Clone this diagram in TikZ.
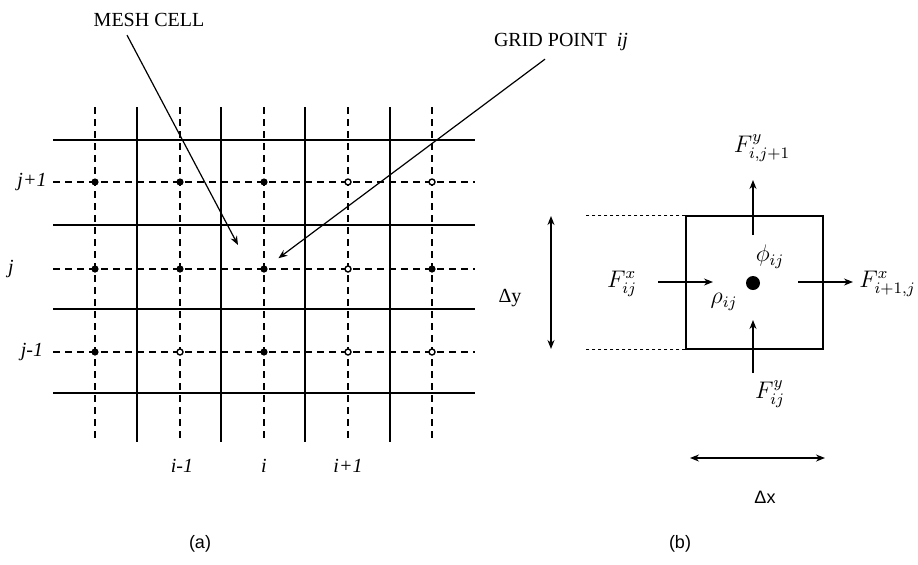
\documentclass[tikz,border=0pt]{standalone}
\usepackage{fontspec}
\setmainfont{Liberation Serif}
\setsansfont{Liberation Sans}
\usepackage{tikz}
\usetikzlibrary{arrows.meta,positioning}
\tikzset{
  cellline/.style={line width=0.9pt, draw=black},
  halfline/.style={line width=0.6pt, dashed, dash pattern=on 3.5pt off 2.5pt},
  dotline/.style={line width=0.6pt, dash pattern=on 1.5pt off 1.5pt},
  fullpt/.style={circle, fill=black, inner sep=0pt, minimum size=3.6pt},
  openpt/.style={circle, draw=black, fill=white, line width=0.7pt, inner sep=0pt, minimum size=3pt},
  idx/.style={font=\fontsize{10}{12}\selectfont\itshape, inner sep=1pt},
  caption/.style={font=\fontsize{10}{12}\selectfont, inner sep=1pt},
  flux/.style={font=\fontsize{11.5}{14}\selectfont, inner sep=0.5pt},
  arrow/.style={-{Stealth[length=4.5pt,width=3.5pt]}, line width=0.6pt},
  twoway/.style={{Stealth[length=4.5pt,width=3.5pt]}-{Stealth[length=4.5pt,width=3.5pt]}, line width=0.7pt}
}
\begin{document}
\begin{tikzpicture}[x=0.5pt, y=-0.5pt]
  \useasboundingbox (0,0) rectangle (918,564);

  % (a) the mesh
  \foreach \x in {95,180,264,348,432}
    \draw[halfline] (\x,107) -- (\x,442);
  \foreach \y in {182,269,352}
    \draw[halfline] (53,\y) -- (475,\y);
  \foreach \x in {137,221,305,390}
    \draw[cellline] (\x,107) -- (\x,442);
  \foreach \y in {140,225,309,393}
    \draw[cellline] (53,\y) -- (475,\y);

  \foreach \x/\y/\s/\n in {95/182/fullpt/p11, 180/182/fullpt/p21, 264/182/fullpt/p31,
      348/182/openpt/p41, 432/182/openpt/p51,
      95/269/fullpt/p12, 180/269/fullpt/p22, 264/269/fullpt/p32,
      348/269/openpt/p42, 432/269/fullpt/p52,
      95/352/fullpt/p13, 180/352/openpt/p23, 264/352/fullpt/p33,
      348/352/openpt/p43, 432/352/openpt/p53}
    \node[\s] (\n) at (\x,\y) {};

  \node[idx] (jp) at (32,182) {j+1};
  \node[idx] (jj) at (11,269) {j};
  \node[idx] (jm) at (32,352) {j-1};
  \node[idx] (im) at (182,466) {i-1};
  \node[idx] (ii) at (264,466) {i};
  \node[idx] (ip) at (348,466) {i+1};

  \node[caption] (mesh) at (149,20) {MESH CELL};
  \node[caption] (grid) at (561,42) {GRID POINT\ \ \textit{ij}};
  \coordinate (cellpt) at (238,245);
  \draw[arrow] ([xshift=-11pt,yshift=-3pt]mesh.south) -- (cellpt);
  \draw[arrow, shorten >=7pt] ([xshift=-8pt,yshift=-3pt]grid.south) -- (p32);

  \node[font=\sffamily\fontsize{9}{11}\selectfont] (capa) at (200,544) {(a)};

  % (b) one cell
  \node[draw, line width=0.7pt, minimum width=68.5pt, minimum height=66.5pt, inner sep=0pt] (cell) at (754.5,282.5) {};
  \node[circle, fill=black, inner sep=0pt, minimum size=7pt] (mid) at (753,283) {};
  \draw[dotline] (cell.north west) -- ++(-101,0) coordinate (topend);
  \draw[dotline] (cell.south west) -- ++(-101,0) coordinate (botend);
  \coordinate (dytop) at (551,216);
  \coordinate (dybot) at (551,349);
  \draw[twoway] (dytop) -- (dybot);
  \node[caption] (dy) at (510,298) {Δy};

  \coordinate (dxl) at (690,458);
  \coordinate (dxr) at (825,458);
  \draw[twoway] (dxl) -- (dxr);
  \node[font=\sffamily\fontsize{9}{11}\selectfont] (dx) at (765,497) {Δx};

  \node[flux] (fxin) at (622,284) {$F^{x}_{ij}$};
  \node[flux, anchor=west] (fxout) at (858,284) {$F^{x}_{i+1,j}$};
  \node[flux] (fyout) at (762,148) {$F^{y}_{i,j+1}$};
  \node[flux] (fyin) at (770,394) {$F^{y}_{ij}$};
  \node[font=\fontsize{12}{14}\selectfont] (phi) at (770,257) {$\phi_{ij}$};
  \node[font=\fontsize{12}{14}\selectfont] (rho) at (724,302) {$\rho_{ij}$};

  \coordinate (inl) at (658,282);
  \coordinate (inr) at (713,282);
  \coordinate (outl) at (798,282);
  \coordinate (outr) at (853,282);
  \coordinate (upb) at (753,235);
  \coordinate (upt) at (753,180);
  \coordinate (lob) at (753,373);
  \coordinate (lot) at (753,320);
  \draw[arrow] (inl) -- (inr);
  \draw[arrow] (outl) -- (outr);
  \draw[arrow] (upb) -- (upt);
  \draw[arrow] (lob) -- (lot);

  \node[font=\sffamily\fontsize{9}{11}\selectfont] (capb) at (680,544) {(b)};
\end{tikzpicture}
\end{document}
